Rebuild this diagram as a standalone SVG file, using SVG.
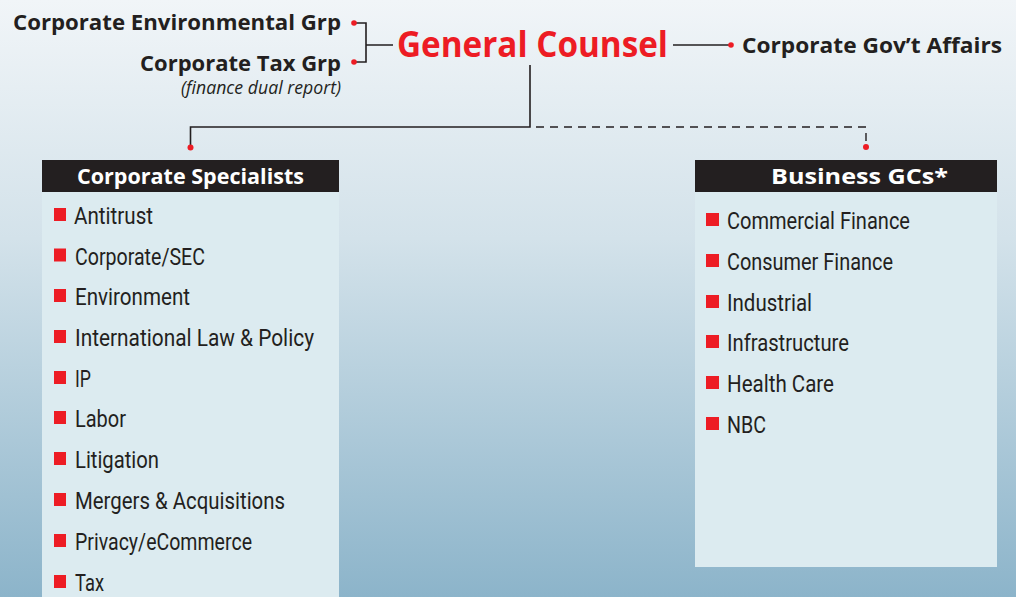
<svg xmlns="http://www.w3.org/2000/svg" width="1016" height="597" viewBox="0 0 1016 597">
  <defs>
    <linearGradient id="bg" x1="0" y1="0" x2="0" y2="1">
      <stop offset="0" stop-color="#f1f5f8"/>
      <stop offset="0.4" stop-color="#d3e2ea"/>
      <stop offset="1" stop-color="#8cb4ca"/>
    </linearGradient>
    <style>
      .top { font-family: "Open Sans", "Liberation Sans", sans-serif; font-weight: 700; fill: #231f20; }
      .gc { font-family: "Open Sans", "Liberation Sans", sans-serif; font-weight: 700; fill: #ed1c24; }
      .note { font-family: "Open Sans", "Liberation Sans", sans-serif; font-style: italic; font-size: 17.5px; fill: #231f20; }
      .hdr { font-family: "Open Sans", "Liberation Sans", sans-serif; font-weight: 700; font-size: 22px; fill: #ffffff; }
      .item { font-family: Roboto, "Liberation Sans", sans-serif; font-size: 23.5px; fill: #231f20; }
      .body { fill: #dcebf0; }
      .head { fill: #231f20; }
      .bul { fill: #ed1c24; }
      .ln { stroke: #231f20; stroke-width: 1.6; fill: none; }
      .dash { stroke: #231f20; stroke-width: 1.4; fill: none; stroke-dasharray: 8 6; }
      .dot { fill: #ed1c24; }
    </style>
  </defs>
  <rect x="0" y="0" width="1016" height="597" fill="url(#bg)"/>

  <g id="connectors">
    <path class="ln" d="M354 23 H366 V62 H354 M366 45 H393"/>
    <path class="ln" d="M673 45 H731"/>
    <path class="ln" d="M530 65 V127 H190.5 V146"/>
    <path class="dash" d="M536 127 H866 V144"/>
    <circle class="dot" cx="354" cy="23" r="2.8"/>
    <circle class="dot" cx="354" cy="62" r="2.8"/>
    <circle class="dot" cx="731" cy="45" r="2.8"/>
    <circle class="dot" cx="190.5" cy="147.5" r="3"/>
    <circle class="dot" cx="866" cy="147" r="3"/>
  </g>

  <g id="env-grp">
    <text class="top" x="341" y="29.5" font-size="21.5" text-anchor="end" textLength="328" lengthAdjust="spacingAndGlyphs">Corporate Environmental Grp</text>
  </g>
  <g id="tax-grp">
    <text class="top" x="341" y="70.5" font-size="21.5" text-anchor="end" textLength="201" lengthAdjust="spacingAndGlyphs">Corporate Tax Grp</text>
    <text class="note" x="341" y="94" text-anchor="end" textLength="160" lengthAdjust="spacingAndGlyphs">(finance dual report)</text>
  </g>
  <g id="general-counsel">
    <text class="gc" x="397" y="57" font-size="35" textLength="271" lengthAdjust="spacingAndGlyphs">General Counsel</text>
  </g>
  <g id="gov-affairs">
    <text class="top" x="742" y="52.5" font-size="21.5" textLength="260" lengthAdjust="spacingAndGlyphs">Corporate Gov’t Affairs</text>
  </g>

  <g id="corporate-specialists">
    <rect class="body" x="42" y="192" width="297" height="405"/>
    <rect class="head" x="42" y="160" width="297" height="32"/>
    <text class="hdr" x="190.5" y="184" text-anchor="middle" textLength="227" lengthAdjust="spacingAndGlyphs">Corporate Specialists</text>
    <rect class="bul" x="54" y="208" width="12" height="13"/>
    <text class="item" x="74" y="224" textLength="79" lengthAdjust="spacingAndGlyphs">Antitrust</text>
    <rect class="bul" x="54" y="248.5" width="12" height="13"/>
    <text class="item" x="75" y="264.5" textLength="130" lengthAdjust="spacingAndGlyphs">Corporate/SEC</text>
    <rect class="bul" x="54" y="289" width="12" height="13"/>
    <text class="item" x="75" y="305" textLength="115" lengthAdjust="spacingAndGlyphs">Environment</text>
    <rect class="bul" x="54" y="330" width="12" height="13"/>
    <text class="item" x="75" y="346" textLength="239" lengthAdjust="spacingAndGlyphs">International Law &amp; Policy</text>
    <rect class="bul" x="54" y="371" width="12" height="13"/>
    <text class="item" x="75" y="387" textLength="16" lengthAdjust="spacingAndGlyphs">IP</text>
    <rect class="bul" x="54" y="411" width="12" height="13"/>
    <text class="item" x="75" y="427" textLength="51" lengthAdjust="spacingAndGlyphs">Labor</text>
    <rect class="bul" x="54" y="452" width="12" height="13"/>
    <text class="item" x="75" y="468" textLength="84" lengthAdjust="spacingAndGlyphs">Litigation</text>
    <rect class="bul" x="54" y="493" width="12" height="13"/>
    <text class="item" x="75" y="509" textLength="210" lengthAdjust="spacingAndGlyphs">Mergers &amp; Acquisitions</text>
    <rect class="bul" x="54" y="534" width="12" height="13"/>
    <text class="item" x="75" y="550" textLength="177" lengthAdjust="spacingAndGlyphs">Privacy/eCommerce</text>
    <rect class="bul" x="54" y="575" width="12" height="13"/>
    <text class="item" x="75" y="591" textLength="29" lengthAdjust="spacingAndGlyphs">Tax</text>
  </g>

  <g id="business-gcs">
    <rect class="body" x="695" y="192" width="302" height="375"/>
    <rect class="head" x="695" y="160" width="302" height="32"/>
    <text class="hdr" x="859.5" y="184" text-anchor="middle" textLength="177" lengthAdjust="spacingAndGlyphs">Business GCs*</text>
    <rect class="bul" x="706" y="213" width="13" height="13"/>
    <text class="item" x="727" y="229" textLength="183" lengthAdjust="spacingAndGlyphs">Commercial Finance</text>
    <rect class="bul" x="706" y="254" width="13" height="13"/>
    <text class="item" x="727" y="270" textLength="166" lengthAdjust="spacingAndGlyphs">Consumer Finance</text>
    <rect class="bul" x="706" y="295" width="13" height="13"/>
    <text class="item" x="727" y="311" textLength="85" lengthAdjust="spacingAndGlyphs">Industrial</text>
    <rect class="bul" x="706" y="335" width="13" height="13"/>
    <text class="item" x="727" y="351" textLength="122" lengthAdjust="spacingAndGlyphs">Infrastructure</text>
    <rect class="bul" x="706" y="376" width="13" height="13"/>
    <text class="item" x="727" y="392" textLength="107" lengthAdjust="spacingAndGlyphs">Health Care</text>
    <rect class="bul" x="706" y="417" width="13" height="13"/>
    <text class="item" x="727" y="433" textLength="39" lengthAdjust="spacingAndGlyphs">NBC</text>
  </g>
</svg>
